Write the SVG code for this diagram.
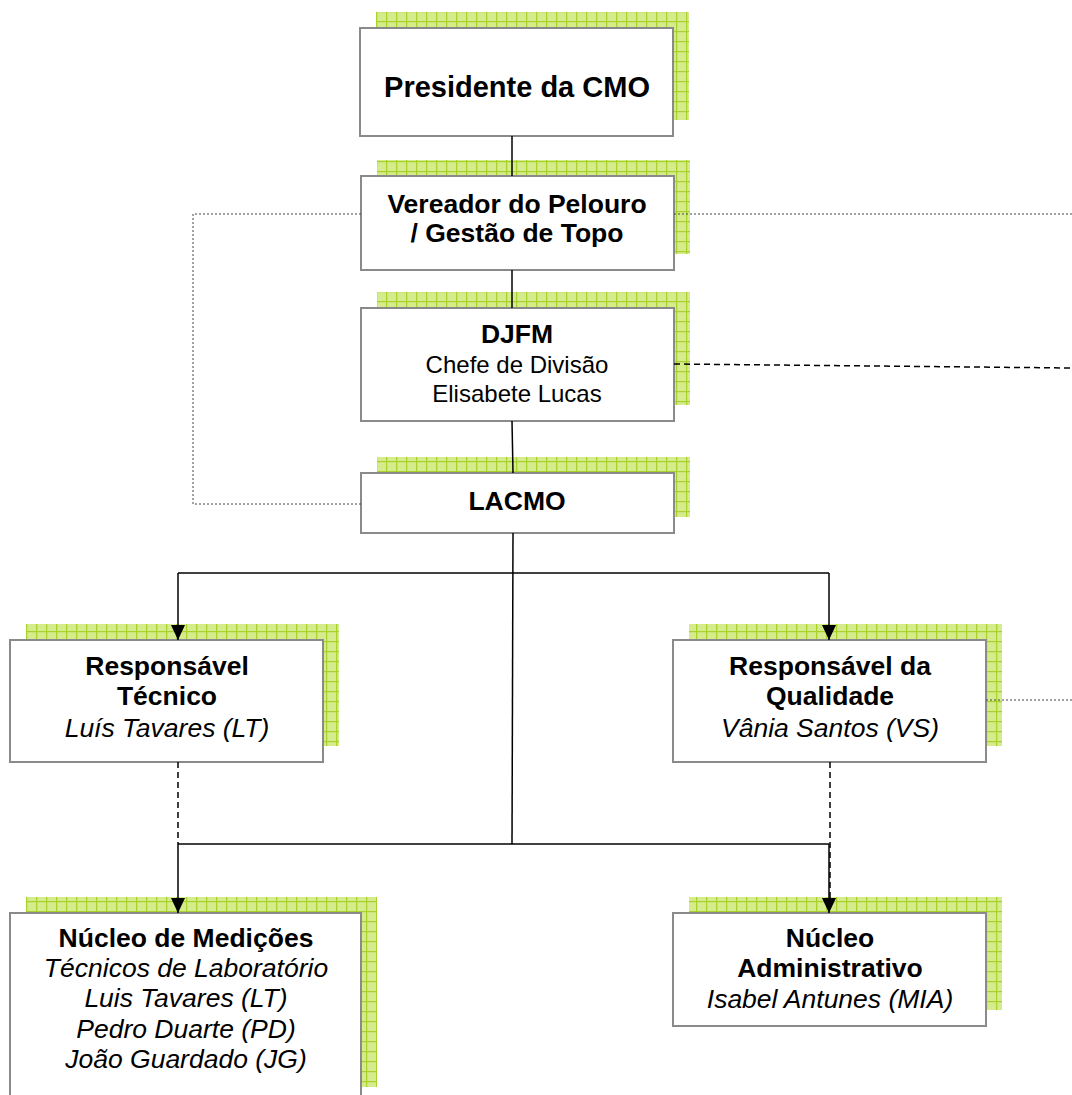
<svg xmlns="http://www.w3.org/2000/svg" width="1072" height="1095" viewBox="0 0 1072 1095">
<defs>
<pattern id="grid" patternUnits="userSpaceOnUse" x="6" y="1" width="10" height="10">
<rect width="10" height="10" fill="#d5eb8c"/>
<rect x="0" y="0" width="10" height="1.2" fill="#a9d12c"/>
<rect x="0" y="0" width="1.2" height="10" fill="#a9d12c"/>
</pattern>
<marker id="arr" markerUnits="userSpaceOnUse" viewBox="0 0 15 14" markerWidth="15" markerHeight="14" refX="15" refY="7" orient="auto">
<path d="M0,0 L15,7 L0,14 Z" fill="#000"/>
</marker>
</defs>
<style>
.sh{fill:url(#grid)}
.bx{fill:#fff;stroke:#8a8a8a;stroke-width:2}
.t{font-family:"Liberation Sans",Arial,sans-serif;text-anchor:middle;fill:#000}
.b{font-weight:bold;font-size:26.5px}
.r{font-size:24px}
.i{font-style:italic;font-size:26.5px}
.ln{fill:none;stroke:#000;stroke-width:1.5}
.dot{fill:none;stroke:#444;stroke-width:1;stroke-dasharray:2,2}
.dash{fill:none;stroke:#000;stroke-width:1.5;stroke-dasharray:6,4}
</style>

<g id="presidente">
<rect class="sh" x="376" y="12" width="313" height="108"/>
<rect class="bx" x="360" y="28" width="313" height="108"/>
<text class="t b" x="517" y="97" style="font-size:29px">Presidente da CMO</text>
</g>

<g id="vereador">
<rect class="sh" x="377" y="160" width="313" height="94"/>
<rect class="bx" x="361" y="176" width="313" height="94"/>
<text class="t b" x="517" y="213">Vereador do Pelouro</text>
<text class="t b" x="517" y="242">/ Gestão de Topo</text>
</g>

<g id="djfm">
<rect class="sh" x="377" y="292" width="313" height="113"/>
<rect class="bx" x="361" y="308" width="313" height="113"/>
<text class="t b" x="517" y="343">DJFM</text>
<text class="t r" x="517" y="373">Chefe de Divisão</text>
<text class="t r" x="517" y="402">Elisabete Lucas</text>
</g>

<g id="lacmo">
<rect class="sh" x="377" y="457" width="313" height="60"/>
<rect class="bx" x="361" y="473" width="313" height="60"/>
<text class="t b" x="517" y="510">LACMO</text>
</g>

<g id="resp-tecnico">
<rect class="sh" x="26" y="624" width="313" height="122"/>
<rect class="bx" x="10" y="640" width="313" height="122"/>
<text class="t b" x="167" y="675">Responsável</text>
<text class="t b" x="167" y="705">Técnico</text>
<text class="t i" x="167" y="737">Luís Tavares (LT)</text>
</g>

<g id="resp-qualidade">
<rect class="sh" x="689" y="624" width="313" height="122"/>
<rect class="bx" x="673" y="640" width="313" height="122"/>
<text class="t b" x="830" y="675">Responsável da</text>
<text class="t b" x="830" y="705">Qualidade</text>
<text class="t i" x="830" y="737">Vânia Santos (VS)</text>
</g>

<g id="nucleo-medicoes">
<rect class="sh" x="26" y="897" width="351" height="190"/>
<rect class="bx" x="10" y="913" width="351" height="192"/>
<text class="t b" x="186" y="947">Núcleo de Medições</text>
<text class="t i" x="186" y="977">Técnicos de Laboratório</text>
<text class="t i" x="186" y="1007">Luis Tavares (LT)</text>
<text class="t i" x="186" y="1038">Pedro Duarte (PD)</text>
<text class="t i" x="186" y="1068">João Guardado (JG)</text>
</g>

<g id="nucleo-administrativo">
<rect class="sh" x="689" y="897" width="313" height="113"/>
<rect class="bx" x="673" y="913" width="313" height="113"/>
<text class="t b" x="830" y="947">Núcleo</text>
<text class="t b" x="830" y="977">Administrativo</text>
<text class="t i" x="830" y="1008">Isabel Antunes (MIA)</text>
</g>

<g id="connectors">
<path class="ln" d="M512,136 V176"/>
<path class="ln" d="M512,270 V308"/>
<path class="ln" d="M512,421 L513,473"/>
<path class="ln" d="M513,533 L512,844"/>
<path class="ln" d="M178,573 H829"/>
<path class="ln" d="M178,573 V640" marker-end="url(#arr)"/>
<path class="ln" d="M829,573 V640" marker-end="url(#arr)"/>
<path class="ln" d="M178,844 H829"/>
<path class="ln" d="M178,844 V913" marker-end="url(#arr)"/>
<path class="ln" d="M829,844 V913" marker-end="url(#arr)"/>
<path class="dash" d="M178,762 V844"/>
<path class="dash" d="M830,762 V905"/>
<path class="dot" d="M361,214 H193 V504 H361"/>
<path class="dot" d="M674,214 H1072"/>
<path class="dash" d="M674,364 L1072,368"/>
<path class="dot" d="M986,700 H1072"/>
</g>
</svg>
